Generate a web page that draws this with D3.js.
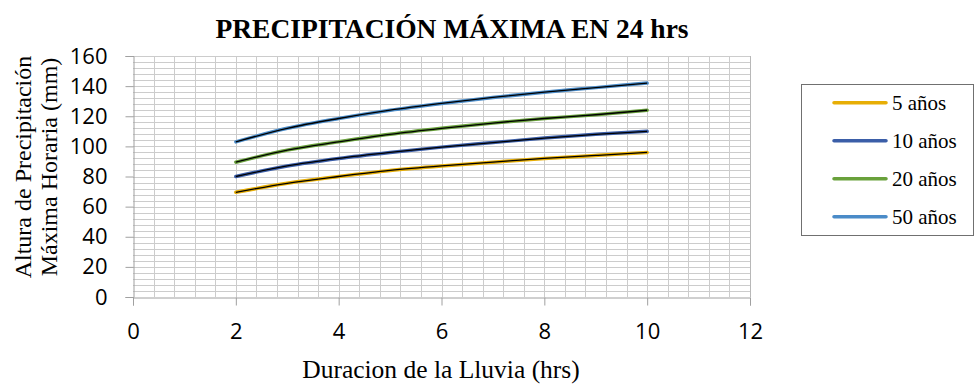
<!DOCTYPE html>
<html>
<head>
<meta charset="utf-8">
<script src="https://cdn.jsdelivr.net/npm/d3@7"></script>
<style>
  body { margin: 0; background: #fff; }
</style>
</head>
<body>
<div id="vis"></div>
<script>
// Datos
const duraciones = [2, 3, 4, 5, 6, 7, 8, 9, 10];
const series = ["5 años", "10 años", "20 años", "50 años"];
const p5 = [69.5, 75.5, 80, 84, 87, 89.5, 92, 94, 96];
const p10 = [80, 87, 92, 96, 99.5, 102.5, 105.5, 108, 110];
const p20 = [89.5, 97.5, 103, 108, 112, 115.5, 118.5, 121, 124];
const p50 = [103, 112, 118.5, 124, 128.5, 132.5, 136, 139, 142];
const colores = ["#E7AE05", "#3B5EA8", "#69A13B", "#4A8BC8"];
const xTicks = [0, 2, 4, 6, 8, 10, 12];
const yTicks = [0, 20, 40, 60, 80, 100, 120, 140, 160];

const WIDTH = 978;
const HEIGHT = 386;
const SVG = d3.select("#vis").append("svg")
  .attr("width", WIDTH)
  .attr("height", HEIGHT);

const margins = [133, 228, 56, 89]; // izquierda, derecha, arriba, abajo

const x = d3.scaleLinear().domain([0, 12])
  .range([margins[0], WIDTH - margins[1]]);
const y = d3.scaleLinear().domain([0, 160])
  .range([HEIGHT - margins[3], margins[2]]);

// grilla menor
const grid = SVG.append("g").attr("stroke", "#cccccc").attr("stroke-width", 1);
grid.selectAll(".gv").data(d3.range(1, 30).map(i => i * 0.4))
  .join("line")
  .attr("x1", d => Math.round(x(d)) + 0.5).attr("x2", d => Math.round(x(d)) + 0.5)
  .attr("y1", y(160)).attr("y2", y(0));
grid.selectAll(".gh").data(d3.range(1, 41).map(i => i * 4))
  .join("line")
  .attr("y1", d => Math.round(y(d)) + 0.5).attr("y2", d => Math.round(y(d)) + 0.5)
  .attr("x1", x(0)).attr("x2", x(12));

// borde derecho
SVG.append("line")
  .attr("x1", Math.round(x(12)) + 0.5).attr("x2", Math.round(x(12)) + 0.5)
  .attr("y1", y(160)).attr("y2", y(0))
  .attr("stroke", "#b8b8b8");

// ejes
const ejeX = d3.axisBottom(x).tickValues(xTicks).tickSize(8).tickPadding(18);
const ejeY = d3.axisLeft(y).tickValues(yTicks).tickSize(8).tickPadding(18);

const gx = SVG.append("g")
  .attr("transform", `translate(0,${Math.round(y(0)) + 0.5})`)
  .call(ejeX);
const gy = SVG.append("g")
  .attr("transform", `translate(${Math.round(x(0)) + 0.5},0)`)
  .call(ejeY);

[gx, gy].forEach(g => {
  g.select(".domain").attr("stroke", "#a0a0a0");
  g.selectAll(".tick line").attr("stroke", "#a0a0a0");
  g.selectAll("text")
    .attr("font-family", "'Open Sans', sans-serif")
    .attr("font-size", 22)
    .attr("fill", "#000");
});

// líneas
const datos = [p5, p10, p20, p50];
const linea = d3.line()
  .x((d, i) => x(duraciones[i]))
  .y(d => y(d))
  .curve(d3.curveMonotoneX);

const lineasG = SVG.append("g");
lineasG.selectAll(".color").data(datos).join("path")
  .attr("d", linea)
  .attr("fill", "none")
  .attr("stroke", (d, i) => colores[i])
  .attr("stroke-width", 3.5)
  .attr("stroke-linecap", "round");
lineasG.selectAll(".negra").data(datos).join("path")
  .attr("d", linea)
  .attr("fill", "none")
  .attr("stroke", "#000")
  .attr("stroke-width", 1.3);

// título
SVG.append("text")
  .attr("x", 452).attr("y", 38)
  .attr("text-anchor", "middle")
  .attr("font-family", "'Liberation Serif', serif")
  .attr("font-weight", "bold")
  .attr("font-size", 27.5)
  .text("PRECIPITACIÓN MÁXIMA EN 24 hrs");

// título eje x
SVG.append("text")
  .attr("x", 441).attr("y", 378)
  .attr("text-anchor", "middle")
  .attr("font-family", "'Liberation Serif', serif")
  .attr("font-size", 25.5)
  .text("Duracion de la Lluvia (hrs)");

// título eje y (dos líneas)
const yTitulo = SVG.append("text")
  .attr("transform", "translate(31,167) rotate(-90)")
  .attr("text-anchor", "middle")
  .attr("font-family", "'Liberation Serif', serif")
  .attr("font-size", 24);
yTitulo.append("tspan").attr("x", 0).attr("dy", 0).text("Altura de Precipitación");
yTitulo.append("tspan").attr("x", 0).attr("dy", 26).text("Máxima Horaria (mm)");

// leyenda
const leyenda = SVG.append("g");
leyenda.append("rect")
  .attr("x", 801.5).attr("y", 84.5)
  .attr("width", 172).attr("height", 151)
  .attr("fill", "#fff")
  .attr("stroke", "#707070");
const items = leyenda.selectAll(".item").data(series).join("g")
  .attr("transform", (d, i) => `translate(0,${102.7 + i * 38})`);
items.append("line")
  .attr("x1", 834).attr("x2", 886)
  .attr("stroke", (d, i) => colores[i])
  .attr("stroke-width", 3.5)
  .attr("stroke-linecap", "round");
items.append("text")
  .attr("x", 892).attr("y", 7)
  .attr("font-family", "'Liberation Serif', serif")
  .attr("font-size", 21)
  .text(d => d);
</script>
</body>
</html>
